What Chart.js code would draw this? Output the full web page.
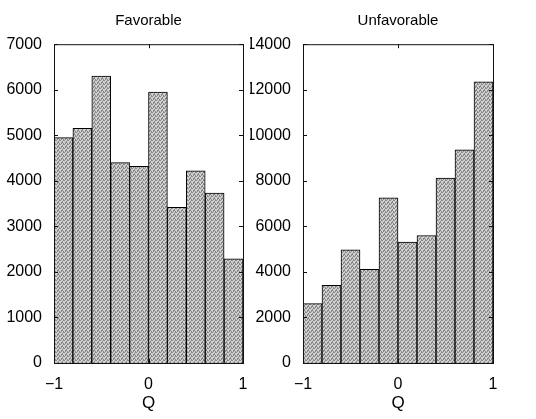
<!DOCTYPE html>
<html>
<head>
<meta charset="utf-8">
<script src="https://cdn.jsdelivr.net/npm/chart.js@4/dist/chart.umd.min.js"></script>
<style>
  html, body { margin: 0; padding: 0; background: #fff; }
  #wrap { position: relative; width: 536px; height: 419px; overflow: hidden; }
  canvas { position: absolute; top: 0; }
  #favChart { left: 0; }
  #unfavChart { left: 250px; }
</style>
</head>
<body>
<div id="wrap">
  <canvas id="favChart" width="260" height="419"></canvas>
  <canvas id="unfavChart" width="286" height="419"></canvas>
</div>
<script>
// histogram bins of Q, width 0.2 from -1 to 1
const binCenters = [-0.9, -0.7, -0.5, -0.3, -0.1, 0.1, 0.3, 0.5, 0.7, 0.9];
const favorable = [4950, 5150, 6300, 4400, 4320, 5950, 3420, 4220, 3730, 2290];
const unfavorable = [2610, 3410, 4970, 4110, 7250, 5310, 5600, 8120, 9360, 12350];
const xTicks = [-1, 0, 1];

const FONT = "'Liberation Sans', Arial, Helvetica, sans-serif";
Chart.defaults.color = '#000';
Chart.defaults.font.family = FONT;

// dithered gray fill like the printed figure
function makeStipple() {
    const c = document.createElement('canvas');
    c.width = 4; c.height = 4;
    const g = c.getContext('2d');
    g.fillStyle = '#d0d0d0';
    g.fillRect(0, 0, 4, 4);
    g.fillStyle = '#888';
    [[0, 0], [2, 1], [1, 2], [3, 3], [3, 0], [1, 3], [2, 2]].forEach(p => g.fillRect(p[0], p[1], 1, 1));
    return g.createPattern(c, 'repeat');
}

// box around plot area with inward ticks on all four sides
const framePlugin = {
    id: 'frame',
    afterDatasetsDraw(chart) {
        const { ctx, chartArea: a, scales } = chart;
        ctx.save();
        ctx.strokeStyle = '#111';
        ctx.lineWidth = 1;
        ctx.strokeRect(a.left + 0.5, a.top + 0.5, a.right - a.left, a.bottom - a.top);
        ctx.beginPath();
        scales.x.ticks.forEach(t => {
            const px = Math.round(scales.x.getPixelForValue(t.value)) + 0.5;
            ctx.moveTo(px, a.bottom); ctx.lineTo(px, a.bottom - 4);
            ctx.moveTo(px, a.top); ctx.lineTo(px, a.top + 4);
        });
        scales.y.ticks.forEach(t => {
            const py = Math.round(scales.y.getPixelForValue(t.value)) + 0.5;
            ctx.moveTo(a.left, py); ctx.lineTo(a.left + 4, py);
            ctx.moveTo(a.right, py); ctx.lineTo(a.right - 4, py);
        });
        ctx.stroke();
        ctx.restore();
    }
};

function makeHist(id, title, values, yMax, yStep, yWidth, padRight) {
    return new Chart(document.getElementById(id), {
        type: 'bar',
        data: {
            datasets: [{
                data: binCenters.map((x, i) => ({ x: x, y: values[i] })),
                backgroundColor: makeStipple(),
                borderColor: '#000',
                borderWidth: 1,
                barPercentage: 1,
                categoryPercentage: 1
            }]
        },
        options: {
            responsive: false,
            animation: false,
            devicePixelRatio: 1,
            layout: { padding: { left: 0, right: padRight, top: 0, bottom: 0 } },
            plugins: {
                legend: { display: false },
                tooltip: { enabled: false },
                title: {
                    display: true,
                    text: title,
                    fullSize: false,
                    font: { size: 15, weight: 'normal' },
                    padding: { top: 12, bottom: 14.2 }
                }
            },
            scales: {
                x: {
                    type: 'linear',
                    min: -1,
                    max: 1,
                    offset: false,
                    grid: { display: false },
                    border: { display: false },
                    afterBuildTicks: s => { s.ticks = xTicks.map(v => ({ value: v })); },
                    ticks: {
                        font: { size: 16 },
                        padding: 4,
                        maxRotation: 0,
                        callback: v => v < 0 ? '\u2212' + Math.abs(v) : String(v)
                    },
                    title: { display: true, text: 'Q', font: { size: 17 }, padding: { top: 5, bottom: 5 } },
                    afterFit: s => { s.height = 56; }
                },
                y: {
                    min: 0,
                    max: yMax,
                    grid: { display: false },
                    border: { display: false },
                    ticks: { stepSize: yStep, font: { size: 16 }, padding: 4, callback: v => String(v) },
                    afterFit: s => { s.width = yWidth; }
                }
            }
        },
        plugins: [framePlugin]
    });
}

makeHist('favChart', 'Favorable', favorable, 7000, 1000, 54, 17);
makeHist('unfavChart', 'Unfavorable', unfavorable, 14000, 2000, 53, 43);
</script>
</body>
</html>
